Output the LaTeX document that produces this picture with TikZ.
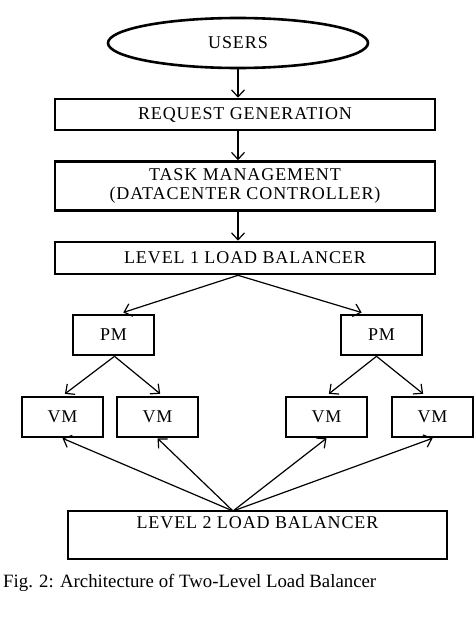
\documentclass[tikz,border=0pt]{standalone}
\usepackage{fontspec}
\setmainfont{Liberation Serif}
\usetikzlibrary{shapes.geometric,arrows.meta}

\begin{document}
\begin{tikzpicture}[x=1pt, y=-1pt,
    block/.style={rectangle, draw=black, line width=2.6pt, fill=white,
        minimum width=380pt, inner sep=0pt, align=center,
        font=\fontsize{18}{19}\selectfont\addfontfeatures{LetterSpace=5}},
    machine/.style={block, minimum width=81pt, minimum height=40pt},
    arrow/.style={line width=1.2pt, -{Straight Barb[length=7pt,width=13pt]}}
]
    \useasboundingbox (0,0) rectangle (474,629);
    \node[ellipse, draw=black, line width=2.6pt, minimum width=260pt, minimum height=50pt,
        inner sep=0pt, font=\fontsize{18}{19}\selectfont\addfontfeatures{LetterSpace=5}]
        (users) at (238,43) {USERS};
    \node[block, minimum height=31pt] (req) at (245,114.5) {REQUEST GENERATION};
    \node[block, minimum height=49pt] (task) at (245,186)
        {TASK MANAGEMENT\\(DATACENTER CONTROLLER)};
    \node[block, minimum height=32pt] (lbone) at (245,258) {LEVEL 1 LOAD BALANCER};
    \node[machine] (pml) at (113.5,335) {PM};
    \node[machine] (pmr) at (381.5,335) {PM};
    \node[machine] (vma) at (62.5,417) {VM};
    \node[machine] (vmb) at (157.5,417) {VM};
    \node[machine] (vmc) at (326.5,417) {VM};
    \node[machine] (vmd) at (432.5,417) {VM};
    \node[block, minimum width=379pt, minimum height=48pt] (lbtwo) at (257.5,535)
        {LEVEL 2 LOAD BALANCER\\[6pt]};
    \node[anchor=west, inner sep=0pt, font=\fontsize{18.8}{20}\selectfont] (caption) at (3,583)
        {Fig. 2: Architecture of Two-Level Load Balancer};
    \coordinate (hub) at (233,511);
    \draw[arrow] (users.south) -- (users.south |- req.north);
    \draw[arrow] (req.south -| users.south) -- (users.south |- task.north);
    \draw[arrow] (task.south -| users.south) -- (users.south |- lbone.north);
    \draw[arrow, shorten >=4pt] (lbone.south -| users.south) -- ([xshift=6pt]pml.north);
    \draw[arrow, shorten >=4pt] (lbone.south -| users.south) -- ([xshift=-16pt]pmr.north);
    \draw[arrow, shorten >=3pt] ([xshift=1pt]pml.south) -- (vma.north);
    \draw[arrow, shorten >=3pt] ([xshift=1pt]pml.south) -- ([xshift=5pt]vmb.north);
    \draw[arrow, shorten >=3pt] ([xshift=-5pt]pmr.south) -- (vmc.north);
    \draw[arrow, shorten >=3pt] ([xshift=-5pt]pmr.south) -- ([xshift=-7pt]vmd.north);
    \draw[arrow] (hub) -- (vma.south);
    \draw[arrow] (hub) -- (vmb.south);
    \draw[arrow] (hub) -- (vmc.south);
    \draw[arrow] (hub) -- (vmd.south);
\end{tikzpicture}
\end{document}
